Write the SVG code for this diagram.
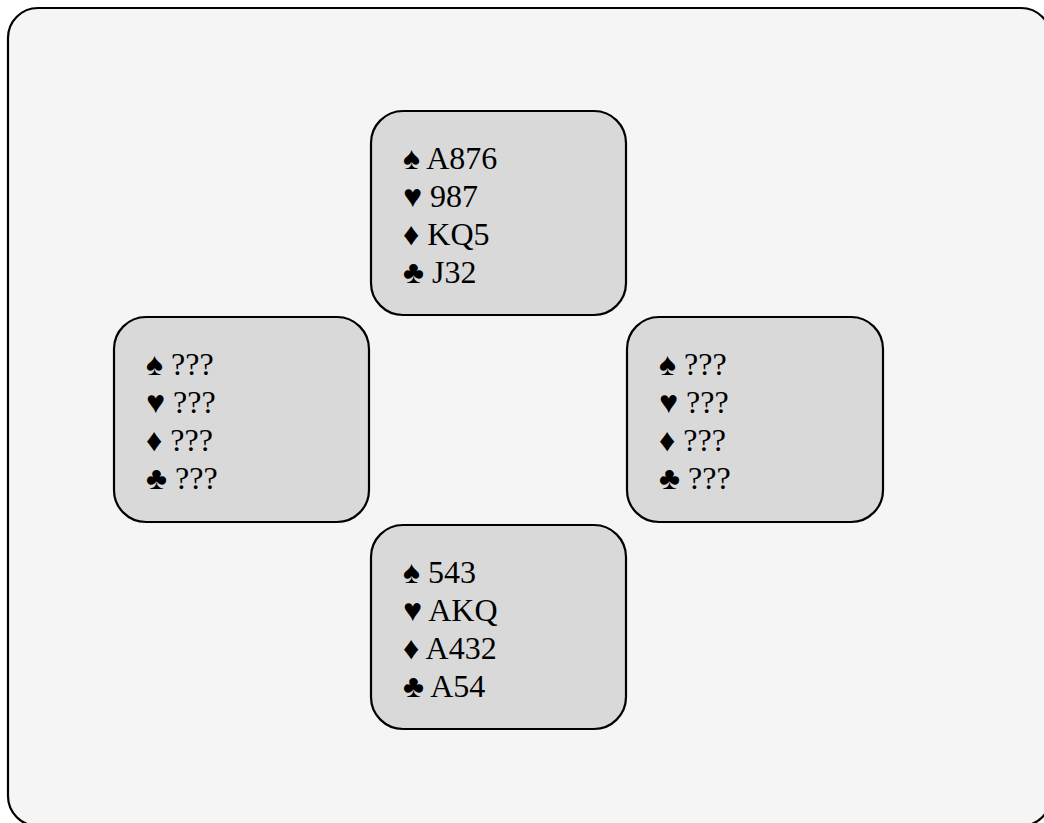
<svg xmlns="http://www.w3.org/2000/svg" width="1044" height="823" viewBox="0 0 1044 823">
<style>
.frame{fill:#f5f5f5;stroke:#000;stroke-width:2.2}
.hand{fill:#d9d9d9;stroke:#000;stroke-width:2.2}
text{font-family:"Liberation Serif","Times New Roman",serif;font-size:32px;fill:#000}
</style>
<rect class="frame" x="8" y="8" width="1043" height="818" rx="30" ry="30"/>
<g id="north">
<rect class="hand" x="371" y="111" width="255" height="204" rx="32" ry="32"/>
<text x="403" y="169">♠ A876</text>
<text x="403" y="207">♥ 987</text>
<text x="403" y="245">♦ KQ5</text>
<text x="403" y="283">♣ J32</text>
</g>
<g id="west">
<rect class="hand" x="114" y="317" width="255" height="205" rx="32" ry="32"/>
<text x="146" y="375">♠ ???</text>
<text x="146" y="413">♥ ???</text>
<text x="146" y="451">♦ ???</text>
<text x="146" y="489">♣ ???</text>
</g>
<g id="east">
<rect class="hand" x="627" y="317" width="256" height="205" rx="32" ry="32"/>
<text x="659" y="375">♠ ???</text>
<text x="659" y="413">♥ ???</text>
<text x="659" y="451">♦ ???</text>
<text x="659" y="489">♣ ???</text>
</g>
<g id="south">
<rect class="hand" x="371" y="525" width="255" height="204" rx="32" ry="32"/>
<text x="403" y="583">♠ 543</text>
<text x="403" y="621">♥ AKQ</text>
<text x="403" y="659">♦ A432</text>
<text x="403" y="697">♣ A54</text>
</g>
<g id="connectors"/>
</svg>
